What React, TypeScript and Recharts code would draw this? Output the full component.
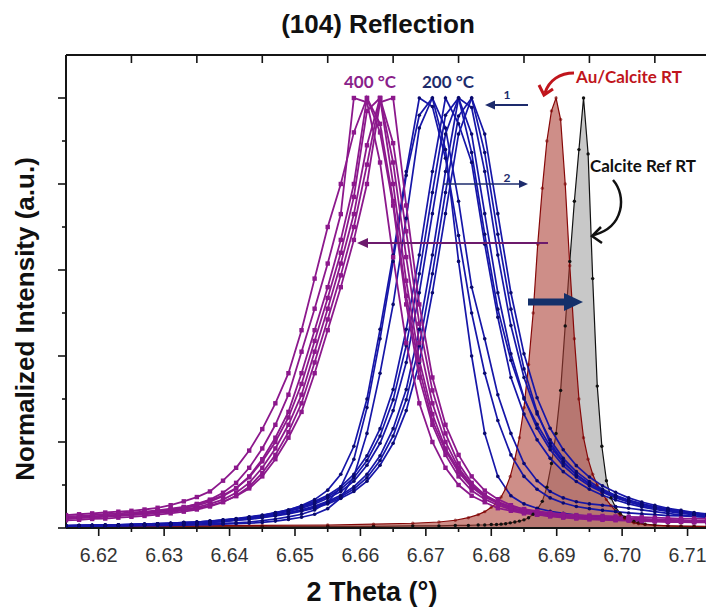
import { ComposedChart, Line, Area, XAxis, YAxis } from 'recharts';

// ── 2θ grids ─────────────────────────────────────────────
const wideTheta = [
  6.615, 6.617, 6.619, 6.621, 6.623, 6.625, 6.627, 6.629, 6.631, 6.633,
  6.635, 6.637, 6.639, 6.641, 6.643, 6.645, 6.647, 6.649, 6.651, 6.653,
  6.655, 6.657, 6.659, 6.661, 6.663, 6.665, 6.667, 6.669, 6.671, 6.673,
  6.675, 6.677, 6.679, 6.681, 6.683, 6.685, 6.687, 6.689, 6.691, 6.693,
  6.695, 6.697, 6.699, 6.701, 6.703, 6.705, 6.707, 6.709, 6.711, 6.713,
  6.715,
];

const rtTheta = [
  6.615, 6.625, 6.635, 6.645, 6.655, 6.662, 6.668, 6.672, 6.6745, 6.6765,
  6.678, 6.679, 6.68, 6.6808, 6.6815, 6.6822, 6.6829, 6.6836, 6.6843, 6.685,
  6.6857, 6.6864, 6.6871, 6.6878, 6.6885, 6.6892, 6.6899, 6.6906, 6.6913, 6.692,
  6.6927, 6.6934, 6.6941, 6.6948, 6.6955, 6.6962, 6.6969, 6.6976, 6.6983, 6.699,
  6.6997, 6.7004, 6.7011, 6.7018, 6.7025, 6.7035, 6.705, 6.707, 6.709, 6.711,
  6.713, 6.715,
];

// ── 400 °C scans (normalized) ────────────────────────────
const p400a = [
  0.024, 0.025, 0.027, 0.029, 0.031, 0.033, 0.036, 0.039, 0.043, 0.048,
  0.056, 0.066, 0.082, 0.105, 0.14, 0.185, 0.24, 0.31, 0.41, 0.51,
  0.615, 0.73, 1.0, 0.99, 0.85, 0.63, 0.43, 0.29, 0.2, 0.14,
  0.1, 0.075, 0.06, 0.046, 0.04, 0.034, 0.031, 0.028, 0.026, 0.024,
  0.023, 0.021, 0.02, 0.019, 0.018, 0.017, 0.016, 0.016, 0.015, 0.015,
  0.014,
];
const p400b = [
  0.023, 0.0245, 0.026, 0.028, 0.03, 0.032, 0.0345, 0.0375, 0.041, 0.0455,
  0.052, 0.061, 0.074, 0.092, 0.12, 0.16, 0.21, 0.27, 0.36, 0.46,
  0.56, 0.67, 0.8, 1.0, 0.92, 0.75, 0.52, 0.35, 0.24, 0.17,
  0.12, 0.087, 0.067, 0.053, 0.043, 0.037, 0.032, 0.029, 0.027, 0.025,
  0.0235, 0.022, 0.0205, 0.0195, 0.0185, 0.0175, 0.0165, 0.016, 0.0155, 0.015,
  0.0145,
];
const p400c = [
  0.022, 0.024, 0.025, 0.027, 0.029, 0.031, 0.033, 0.036, 0.039, 0.043,
  0.048, 0.056, 0.066, 0.082, 0.105, 0.14, 0.185, 0.24, 0.31, 0.41,
  0.51, 0.615, 0.73, 0.89, 1.0, 0.85, 0.63, 0.43, 0.29, 0.2,
  0.14, 0.1, 0.075, 0.06, 0.046, 0.04, 0.034, 0.031, 0.028, 0.026,
  0.024, 0.023, 0.021, 0.02, 0.019, 0.018, 0.017, 0.016, 0.016, 0.015,
  0.015,
];
const p400d = [
  0.0215, 0.023, 0.0245, 0.026, 0.028, 0.03, 0.032, 0.0345, 0.0375, 0.041,
  0.0455, 0.052, 0.061, 0.074, 0.092, 0.12, 0.16, 0.21, 0.27, 0.36,
  0.46, 0.56, 0.67, 0.8, 0.99, 1.0, 0.75, 0.52, 0.35, 0.24,
  0.17, 0.12, 0.087, 0.067, 0.053, 0.043, 0.037, 0.032, 0.029, 0.027,
  0.025, 0.0235, 0.022, 0.0205, 0.0195, 0.0185, 0.0175, 0.0165, 0.016, 0.0155,
  0.015,
];
const p400e = [
  0.03, 0.032, 0.034, 0.036, 0.038, 0.04, 0.043, 0.047, 0.053, 0.062,
  0.072, 0.085, 0.11, 0.14, 0.18, 0.23, 0.29, 0.36, 0.46, 0.58,
  0.7, 0.8, 0.92, 1.0, 0.94, 0.76, 0.54, 0.37, 0.25, 0.18,
  0.13, 0.095, 0.072, 0.057, 0.047, 0.04, 0.035, 0.032, 0.029, 0.027,
  0.026, 0.024, 0.023, 0.022, 0.021, 0.02, 0.019, 0.018, 0.017, 0.017,
  0.016,
];
const p400f = [
  0.027, 0.028, 0.03, 0.032, 0.034, 0.036, 0.038, 0.041, 0.045, 0.049,
  0.055, 0.064, 0.076, 0.093, 0.118, 0.155, 0.2, 0.257, 0.335, 0.435,
  0.535, 0.64, 0.77, 0.97, 1.0, 0.8, 0.575, 0.39, 0.265, 0.185,
  0.135, 0.098, 0.076, 0.061, 0.05, 0.044, 0.039, 0.035, 0.032, 0.03,
  0.029, 0.028, 0.027, 0.026, 0.025, 0.024, 0.023, 0.022, 0.022, 0.021,
  0.021,
];
const p400g = [
  0.018, 0.019, 0.021, 0.022, 0.024, 0.026, 0.028, 0.031, 0.034, 0.038,
  0.043, 0.05, 0.06, 0.075, 0.096, 0.128, 0.17, 0.223, 0.29, 0.385,
  0.485, 0.5875, 0.7, 0.845, 1.0, 0.895, 0.69, 0.475, 0.32, 0.22,
  0.15, 0.105, 0.077, 0.059, 0.045, 0.037, 0.031, 0.027, 0.024, 0.022,
  0.02, 0.019, 0.018, 0.017, 0.016, 0.015, 0.014, 0.014, 0.013, 0.013,
  0.012,
];

// ── 200 °C scans (normalized) ────────────────────────────
const b200a = [
  0.004, 0.004, 0.0045, 0.0045, 0.005, 0.005, 0.0052, 0.0055, 0.006, 0.0065,
  0.007, 0.008, 0.009, 0.01, 0.011, 0.013, 0.016, 0.02, 0.025, 0.032,
  0.045, 0.07, 0.12, 0.22, 0.36, 0.52, 0.72, 0.93, 1.0, 0.88,
  0.62, 0.4, 0.22, 0.12, 0.075, 0.056, 0.046, 0.039, 0.034, 0.03,
  0.027, 0.025, 0.023, 0.021, 0.02, 0.019, 0.018, 0.017, 0.016, 0.015,
  0.015,
];
const b200b = [
  0.004, 0.0045, 0.005, 0.005, 0.0055, 0.006, 0.0065, 0.007, 0.0075, 0.008,
  0.009, 0.01, 0.011, 0.012, 0.014, 0.017, 0.021, 0.026, 0.032, 0.042,
  0.06, 0.095, 0.16, 0.28, 0.44, 0.62, 0.82, 0.96, 1.0, 0.93,
  0.76, 0.56, 0.44, 0.31, 0.22, 0.15, 0.11, 0.085, 0.07, 0.061,
  0.056, 0.053, 0.05, 0.046, 0.042, 0.038, 0.034, 0.03, 0.027, 0.025,
  0.023,
];
const b200c = [
  0.0055, 0.006, 0.0065, 0.007, 0.0075, 0.008, 0.009, 0.01, 0.011, 0.012,
  0.014, 0.016, 0.018, 0.021, 0.025, 0.029, 0.035, 0.042, 0.052, 0.066,
  0.088, 0.125, 0.19, 0.3, 0.462, 0.635, 0.829, 1.0, 0.98, 0.86,
  0.68, 0.5, 0.36, 0.25, 0.17, 0.12, 0.09, 0.07, 0.058, 0.05,
  0.045, 0.041, 0.038, 0.035, 0.033, 0.031, 0.029, 0.028, 0.027, 0.026,
  0.025,
];
const b200d = [
  0.0053, 0.0057, 0.0062, 0.0068, 0.0074, 0.0082, 0.009, 0.01, 0.011, 0.013,
  0.014, 0.016, 0.019, 0.022, 0.026, 0.03, 0.036, 0.042, 0.051, 0.062,
  0.076, 0.096, 0.125, 0.168, 0.231, 0.322, 0.462, 0.635, 0.829, 1.0,
  0.94, 0.85, 0.66, 0.49, 0.35, 0.265, 0.205, 0.162, 0.131, 0.108,
  0.09, 0.076, 0.065, 0.056, 0.049, 0.043, 0.0385, 0.034, 0.031, 0.028,
  0.025,
];
const b200e = [
  0.005, 0.0055, 0.006, 0.0065, 0.0071, 0.0077, 0.0086, 0.0095, 0.011, 0.012,
  0.013, 0.015, 0.018, 0.02, 0.024, 0.028, 0.033, 0.039, 0.046, 0.056,
  0.069, 0.085, 0.109, 0.146, 0.197, 0.273, 0.385, 0.547, 0.731, 0.916,
  1.0, 0.916, 0.731, 0.547, 0.405, 0.303, 0.232, 0.182, 0.145, 0.1185,
  0.098, 0.083, 0.07, 0.0605, 0.053, 0.046, 0.041, 0.036, 0.0325, 0.029,
  0.0265,
];
const b200f = [
  0.0048, 0.0053, 0.0057, 0.0062, 0.0068, 0.0074, 0.0082, 0.009, 0.01, 0.011,
  0.013, 0.014, 0.016, 0.019, 0.022, 0.026, 0.03, 0.036, 0.042, 0.051,
  0.062, 0.076, 0.096, 0.125, 0.168, 0.231, 0.322, 0.462, 0.635, 0.829,
  1.0, 0.978, 0.829, 0.635, 0.471, 0.35, 0.265, 0.205, 0.162, 0.131,
  0.108, 0.09, 0.076, 0.065, 0.056, 0.049, 0.043, 0.0385, 0.034, 0.031,
  0.028,
];
const b200g = [
  0.0046, 0.005, 0.0055, 0.006, 0.0065, 0.0071, 0.0077, 0.0086, 0.0095, 0.011,
  0.012, 0.013, 0.015, 0.018, 0.02, 0.024, 0.028, 0.033, 0.039, 0.046,
  0.056, 0.069, 0.085, 0.109, 0.146, 0.197, 0.273, 0.385, 0.547, 0.731,
  0.916, 1.0, 0.916, 0.731, 0.547, 0.405, 0.303, 0.232, 0.182, 0.145,
  0.1185, 0.098, 0.083, 0.07, 0.0605, 0.053, 0.046, 0.041, 0.036, 0.0325,
  0.029,
];
const b200h = [
  0.0052, 0.0056, 0.0061, 0.0067, 0.0073, 0.008, 0.0088, 0.0098, 0.011, 0.0125,
  0.0135, 0.0155, 0.0185, 0.021, 0.025, 0.029, 0.0345, 0.0405, 0.0485, 0.059,
  0.0725, 0.0905, 0.117, 0.157, 0.214, 0.298, 0.424, 0.591, 0.78, 0.96,
  1.0, 0.873, 0.683, 0.509, 0.39, 0.3, 0.241, 0.19, 0.152, 0.124,
  0.103, 0.087, 0.074, 0.064, 0.056, 0.049, 0.044, 0.0385, 0.035, 0.031,
  0.029,
];
const b200i = [
  0.0047, 0.0052, 0.0056, 0.0061, 0.0067, 0.0073, 0.008, 0.0088, 0.0098, 0.011,
  0.0125, 0.0135, 0.0155, 0.0185, 0.021, 0.025, 0.029, 0.0345, 0.0405, 0.0485,
  0.059, 0.0725, 0.0905, 0.117, 0.157, 0.214, 0.298, 0.424, 0.591, 0.78,
  0.958, 1.0, 0.873, 0.683, 0.509, 0.37, 0.27, 0.197, 0.155, 0.124,
  0.102, 0.085, 0.072, 0.061, 0.052, 0.046, 0.04, 0.036, 0.0315, 0.029,
  0.026,
];

// ── Room temperature references ──────────────────────────
const auCalciteRt = [
  0.004, 0.004, 0.005, 0.006, 0.007, 0.009, 0.011, 0.014, 0.018, 0.024,
  0.031, 0.038, 0.048, 0.058, 0.072, 0.092, 0.12, 0.16, 0.21, 0.28,
  0.38, 0.5, 0.66, 0.79, 0.9, 0.97, 1.0, 0.95, 0.8, 0.61,
  0.44, 0.3, 0.21, 0.16, 0.125, 0.1, 0.082, 0.066, 0.052, 0.04,
  0.03, 0.022, 0.016, 0.012, 0.01, 0.008, 0.006, 0.005, 0.0045, 0.004,
  0.004, 0.0035,
];
const calciteRefRt = [
  0.002, 0.002, 0.003, 0.003, 0.004, 0.004, 0.005, 0.005, 0.006, 0.006,
  0.007, 0.007, 0.008, 0.008, 0.009, 0.01, 0.012, 0.014, 0.016, 0.019,
  0.024, 0.032, 0.045, 0.062, 0.095, 0.15, 0.22, 0.32, 0.47, 0.62,
  0.76, 0.88, 1.0, 0.87, 0.58, 0.33, 0.19, 0.11, 0.07, 0.048,
  0.034, 0.025, 0.019, 0.015, 0.012, 0.009, 0.007, 0.005, 0.004, 0.004,
  0.003, 0.003,
];

// ── Axis ticks ───────────────────────────────────────────
const bottomTicks = [
  6.62, 6.625, 6.63, 6.635, 6.64, 6.645, 6.65, 6.655, 6.66, 6.665,
  6.67, 6.675, 6.68, 6.685, 6.69, 6.695, 6.7, 6.705, 6.71,
];
const topTicks = [6.625, 6.635, 6.645, 6.655, 6.665, 6.675, 6.685, 6.695, 6.705];
const leftTicks = [0, 0.1, 0.2, 0.3, 0.4, 0.5, 0.6, 0.7, 0.8, 0.9, 1.0];
const rightTicks = [0.27, 0.77, 1.27, 1.77, 2.27, 2.77, 3.27, 3.77, 4.27];

const purpleKeys = ['p400a', 'p400b', 'p400c', 'p400d', 'p400e', 'p400f', 'p400g'];
const blueKeys = ['b200a', 'b200b', 'b200c', 'b200d', 'b200e', 'b200f', 'b200g', 'b200h', 'b200i'];

type Row = Record<string, number>;

function buildRows(): Row[] {
  const byTheta = new Map<string, Row>();
  const put = (theta: number[], series: Record<string, number[]>) => {
    theta.forEach((t, i) => {
      const k = t.toFixed(4);
      const row = byTheta.get(k) ?? { theta: t };
      Object.entries(series).forEach(([name, vals]) => {
        row[name] = vals[i];
      });
      byTheta.set(k, row);
    });
  };
  put(wideTheta, {
    p400a, p400b, p400c, p400d, p400e, p400f, p400g,
    b200a, b200b, b200c, b200d, b200e, b200f, b200g, b200h, b200i,
  });
  put(rtTheta, { auCalciteRt, calciteRefRt });
  return [...byTheta.values()].sort((a, b) => a.theta - b.theta);
}

const rows = buildRows();

// ── Colours ──────────────────────────────────────────────
const PURPLE = '#8c188c';
const BLUE = '#1616a8';
const BLUE_DOT = '#0a0a6e';
const NAVY = '#1d2b6c';
const AXIS = '#151515';
const FONT = '"Liberation Sans", Arial, sans-serif';
const NOTE_FONT = 'Lato, "Open Sans", sans-serif';

// ── Markers and ticks ────────────────────────────────────
const ok = (v: unknown) => typeof v === 'number' && !Number.isNaN(v);

const squareDot = (p: any) =>
  ok(p.cx) && ok(p.cy) ? (
    <rect key={`s${p.index}`} x={p.cx - 2.2} y={p.cy - 2.2} width={4.4} height={4.4} fill={PURPLE} />
  ) : null;

const roundDot = (p: any) =>
  ok(p.cx) && ok(p.cy) ? <circle key={`c${p.index}`} cx={p.cx} cy={p.cy} r={1.8} fill={BLUE_DOT} /> : null;

const BottomTick = (props: any) => {
  const { x, y, payload } = props;
  const v = payload.value as number;
  const major = Math.round(v * 1000) % 10 === 0;
  return (
    <g>
      <line x1={x} x2={x} y1={y} y2={y + (major ? 8 : 4)} stroke={AXIS} strokeWidth={1.6} />
      {major && (
        <text x={x} y={y + 34} textAnchor="middle" fontSize={19.5} fill="#333" fontFamily={FONT}>
          {v.toFixed(2)}
        </text>
      )}
    </g>
  );
};

const TopTick = (props: any) => {
  const { x, y } = props;
  return <line x1={x} x2={x} y1={y} y2={y + 8} stroke={AXIS} strokeWidth={1.6} />;
};

const LeftTick = (props: any) => {
  const { x, y, payload } = props;
  const major = Math.round(payload.value * 10) % 2 === 0;
  return <line x1={x - (major ? 8 : 4)} x2={x} y1={y} y2={y} stroke={AXIS} strokeWidth={1.6} />;
};

const RightTick = (props: any) => {
  const { x, y, index } = props;
  const major = index % 2 === 1;
  return <line x1={x - (major ? 7 : 3)} x2={x} y1={y} y2={y} stroke={AXIS} strokeWidth={1.6} />;
};

// ── Component ────────────────────────────────────────────
export default function App() {
  return (
    <div
      style={{
        position: 'fixed',
        left: 0,
        top: 0,
        width: 706,
        height: 608,
        overflow: 'hidden',
        background: '#fff',
        fontFamily: FONT,
      }}
    >
      <ComposedChart width={730} height={608} data={rows} margin={{ top: 25, right: 13, bottom: 0, left: 0 }}>
        <XAxis
          dataKey="theta"
          type="number"
          domain={[6.615, 6.7145]}
          allowDataOverflow
          ticks={bottomTicks}
          interval={0}
          tickSize={0}
          tickMargin={0}
          tick={BottomTick}
          tickLine={false}
          axisLine={{ stroke: AXIS, strokeWidth: 2 }}
          height={80}
        />
        <XAxis
          xAxisId="top"
          orientation="top"
          dataKey="theta"
          type="number"
          domain={[6.615, 6.7145]}
          allowDataOverflow
          ticks={topTicks}
          interval={0}
          tickSize={0}
          tickMargin={0}
          tick={TopTick}
          tickLine={false}
          axisLine={{ stroke: AXIS, strokeWidth: 2 }}
          height={30}
        />
        <YAxis
          type="number"
          domain={[0, 1.1]}
          ticks={leftTicks}
          interval={0}
          tickSize={0}
          tickMargin={0}
          tick={LeftTick}
          tickLine={false}
          axisLine={{ stroke: AXIS, strokeWidth: 2 }}
          width={66}
        />
        <YAxis
          yAxisId="right"
          orientation="right"
          mirror
          type="number"
          domain={[0, 4.367]}
          ticks={rightTicks}
          interval={0}
          tickSize={0}
          tickMargin={0}
          tick={RightTick}
          tickLine={false}
          axisLine={{ stroke: AXIS, strokeWidth: 2 }}
          width={10}
        />

        <Area
          dataKey="calciteRefRt"
          type="linear"
          connectNulls
          stroke="#111"
          strokeWidth={1.2}
          fill="#c8c8c8"
          fillOpacity={1}
          dot={{ r: 1.7, fill: '#111', stroke: 'none' }}
          activeDot={false}
          isAnimationActive={false}
        />
        <Area
          dataKey="auCalciteRt"
          type="linear"
          connectNulls
          stroke="#860808"
          strokeWidth={1.2}
          fill="rgb(170,60,50)"
          fillOpacity={0.58}
          dot={{ r: 1.7, fill: '#7a0000', stroke: 'none' }}
          activeDot={false}
          isAnimationActive={false}
        />

        {blueKeys.map((k) => (
          <Line
            key={k}
            dataKey={k}
            type="linear"
            connectNulls
            stroke={BLUE}
            strokeWidth={1.7}
            dot={roundDot}
            activeDot={false}
            isAnimationActive={false}
          />
        ))}
        {purpleKeys.map((k) => (
          <Line
            key={k}
            dataKey={k}
            type="linear"
            connectNulls
            stroke={PURPLE}
            strokeWidth={1.8}
            dot={squareDot}
            activeDot={false}
            isAnimationActive={false}
          />
        ))}
      </ComposedChart>

      {/* titles and annotations */}
      <svg
        width={706}
        height={608}
        style={{ position: 'absolute', left: 0, top: 0, pointerEvents: 'none' }}
      >
        <text x={378} y={33} textAnchor="middle" fontSize={26} fontWeight="bold" fill="#111" fontFamily={FONT}>
          (104) Reflection
        </text>
        <text
          transform="translate(34,319) rotate(-90)"
          textAnchor="middle"
          fontSize={26}
          fontWeight="bold"
          fill="#111"
          fontFamily={FONT}
        >
          Normalized Intensity (a.u.)
        </text>
        <text x={372} y={601} textAnchor="middle" fontSize={27} fontWeight="bold" fill="#111" fontFamily={FONT}>
          2 Theta (°)
        </text>

        <g fontFamily={NOTE_FONT} fontWeight="bold">
          <text x={370} y={88} textAnchor="middle" fontSize={17} fill="#8a1f8a">400 °C</text>
          <text x={448} y={88} textAnchor="middle" fontSize={17} fill={NAVY}>200 °C</text>
          <text x={629} y={83} textAnchor="middle" fontSize={17} fill="#c0151c">Au/Calcite RT</text>
          <text x={643} y={172} textAnchor="middle" fontSize={17} fill="#111">Calcite Ref RT</text>
          <text x={507} y={99} textAnchor="middle" fontSize={12} fill={NAVY}>1</text>
          <text x={507} y={182} textAnchor="middle" fontSize={12} fill={NAVY}>2</text>
        </g>

        {/* shift 1: RT peak to 200 °C */}
        <line x1={528} y1={105} x2={492} y2={105} stroke={NAVY} strokeWidth={2} />
        <polygon points="485,105 495,100.5 495,109.5" fill={NAVY} />
        {/* shift 2 */}
        <line x1={443} y1={184} x2={521} y2={184} stroke={NAVY} strokeWidth={1.6} />
        <polygon points="528,184 519,180 519,188" fill={NAVY} />
        {/* shift to 400 °C */}
        <line x1={548} y1={243} x2={365} y2={243} stroke="#6c1a6c" strokeWidth={2.2} />
        <polygon points="357,243 368,238 368,248" fill="#6c1a6c" />
        {/* thick arrow towards reference */}
        <line x1={528} y1={302} x2={566} y2={302} stroke="#14306a" strokeWidth={7} />
        <polygon points="583,302 564,293 564,311" fill="#14306a" />

        {/* curved callouts */}
        <path d="M574 73 C 560 73, 549 80, 545 93" fill="none" stroke="#c0151c" strokeWidth={3} />
        <polyline points="539,85 544,95 553,89" fill="none" stroke="#c0151c" strokeWidth={3} />
        <path d="M613 180 C 627 196, 624 227, 594 235" fill="none" stroke="#111" strokeWidth={2.5} />
        <polyline points="601,227 592,236 602,243" fill="none" stroke="#111" strokeWidth={2.5} />
      </svg>
    </div>
  );
}
